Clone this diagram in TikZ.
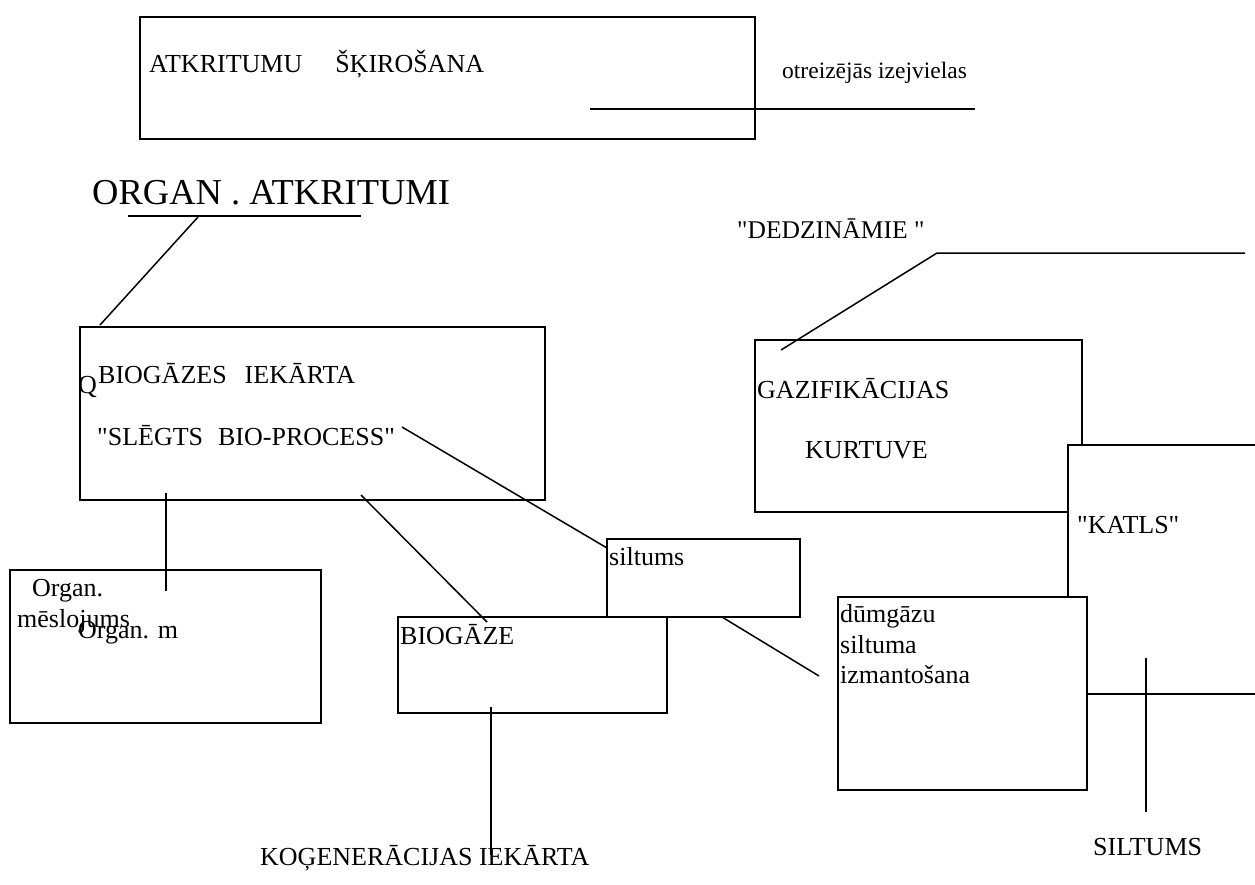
\documentclass[tikz,border=0pt]{standalone}
\usepackage{fontspec}
\setmainfont{Liberation Serif}
\begin{document}
\begin{tikzpicture}[x=1pt,y=-1pt,
  box/.style={draw, line width=1.6pt, fill=white, inner sep=0pt, outer sep=0pt, anchor=north west},
  lbl/.style={inner sep=0pt, anchor=base west, font=\fontsize{26}{30}\selectfont},
  conn/.style={line width=1.5pt}]
\useasboundingbox (0,0) rectangle (1255,884);
\clip (0,0) rectangle (1255,884);
% top box
\node[box, minimum width=615, minimum height=122] (sort) at (140,17) {};
\node[lbl] (sortT) at (149,72) {ATKRITUMU\hspace{33pt}ŠĶIROŠANA};
\node[lbl, font=\fontsize{23.5}{27}\selectfont] (otr) at (782,78) {otreizējās izejvielas};
\coordinate (o1) at (590,109);
\coordinate (o2) at (975,109);
\draw[conn] (o1) -- (o2);
% organ atkritumi
\node[lbl, font=\fontsize{36.5}{40}\selectfont] (org) at (92,204) {ORGAN . ATKRITUMI};
\coordinate (u1) at (128,216);
\coordinate (u2) at (361,216);
\draw[line width=1.3pt] (u1) -- (u2);
% biogazes box
\node[box, minimum width=465, minimum height=173] (bio) at (80,327) {};
\coordinate (oa) at (198,217);
\coordinate (ob) at (100,325);
\draw[conn] (oa) -- (ob);
\node[lbl] (q) at (78,393) {Q};
\node[lbl] (bioT) at (98,383) {BIOGĀZES\hspace{18pt}IEKĀRTA};
\node[lbl] (bioS) at (97,445) {\textquotedbl SLĒGTS\hspace{15pt}BIO-PROCESS\textquotedbl};
% organ meslojums box
\node[box, minimum width=311, minimum height=153] (mes) at (10,570) {};
\node[lbl] (m1) at (32,596) {Organ.};
\node[lbl] (m2) at (17,627) {mēslojums};
\node[lbl] (m3) at (78,638) {Organ. m};
% siltums and biogaze boxes
\node[box, minimum width=193, minimum height=78] (silt) at (607,539) {};
\node[lbl] (siltT) at (609,565) {siltums};
\node[box, minimum width=269, minimum height=96] (gaze) at (398,617) {};
\node[lbl] (gazeT) at (400,644) {BIOGĀZE};
% gazifikacijas
\node[box, minimum width=327, minimum height=172] (gaz) at (755,340) {};
\node[lbl] (gazT) at (757,398) {GAZIFIKĀCIJAS};
\node[lbl] (kurT) at (805,458) {KURTUVE};
\node[lbl, font=\fontsize{25.5}{29}\selectfont] (ded) at (737,238) {\textquotedbl DEDZINĀMIE \textquotedbl};
\coordinate (d1) at (781,350);
\coordinate (d2) at (937,253);
\coordinate (d3) at (1245,253);
\draw[conn] (d1) -- (d2) -- (d3);
% katls
\node[box, minimum width=220, minimum height=249] (katl) at (1068,445) {};
\node[lbl] (katlT) at (1077,533) {\textquotedbl KATLS\textquotedbl};
% dumgazu
\node[box, minimum width=249, minimum height=193] (dum) at (838,597) {};
\node[lbl] (dum1) at (840,622) {dūmgāzu};
\node[lbl] (dum2) at (840,653) {siltuma};
\node[lbl] (dum3) at (840,683) {izmantošana};
% connectors
\coordinate (b1) at (166,493);
\coordinate (b2) at (166,591);
\draw[conn] (b1) -- (b2);
\coordinate (s1) at (402,427);
\coordinate (s2) at (607,548);
\draw[conn] (s1) -- (s2);
\coordinate (g1) at (361,495);
\coordinate (g2) at (487,622);
\draw[conn] (g1) -- (g2);
\coordinate (k1) at (491,707);
\coordinate (k2) at (491,855);
\draw[conn] (k1) -- (k2);
\coordinate (t1) at (722,617);
\coordinate (t2) at (819,676);
\draw[conn] (t1) -- (t2);
\coordinate (h1) at (1146,658);
\coordinate (h2) at (1146,812);
\draw[conn] (h1) -- (h2);
% bottom labels
\node[lbl] (kog) at (260,865) {KOĢENERĀCIJAS IEKĀRTA};
\node[lbl] (siltB) at (1093,855) {SILTUMS};
\end{tikzpicture}
\end{document}
